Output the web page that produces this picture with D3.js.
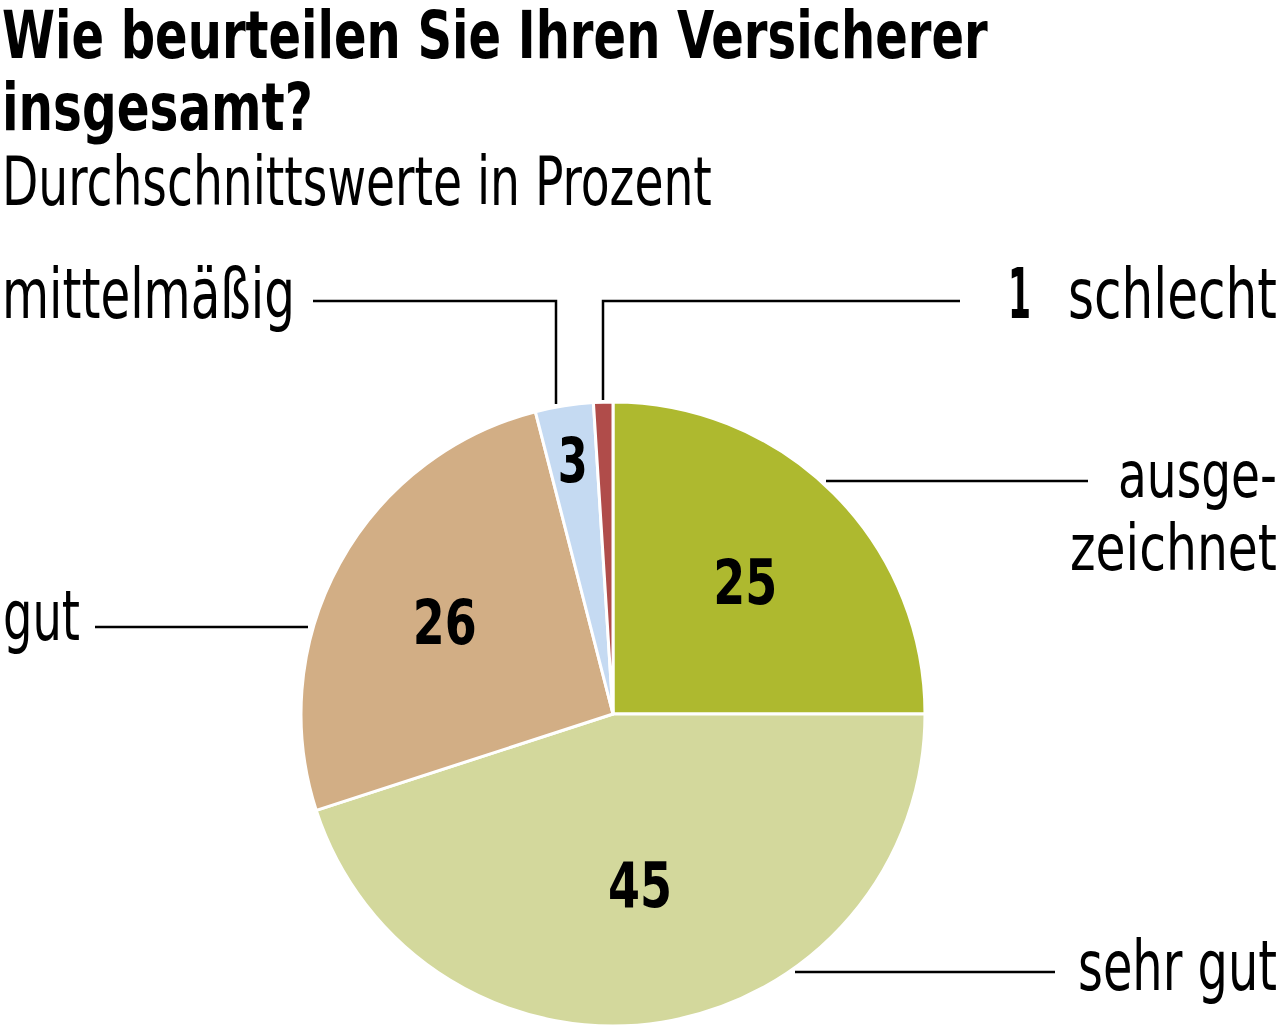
<!DOCTYPE html>
<html>
<head>
<meta charset="utf-8">
<script src="https://cdn.jsdelivr.net/npm/d3@7"></script>
<style>
  body { margin: 0; background: #fff; }
  text { font-family: "Liberation Sans Narrow", "DejaVu Sans Condensed", sans-serif; fill: #000; }
</style>
</head>
<body>
<div id="chart"></div>
<script>
// DATA
const categories = ["ausgezeichnet", "sehr gut", "gut", "mittelmäßig", "schlecht"];
const values = [25, 45, 26, 3, 1];
const colors = ["#aeb92f", "#d3d89c", "#d2ae85", "#c5daf2", "#b04c4a"];

// LAYOUT
const width = 1280,
  height = 1032,
  cx = 613,
  cy = 714,
  radius = 312;

// radius of the value label inside each slice (0 = no label)
const labelRadius = { "ausgezeichnet": 187, "sehr gut": 173, "gut": 192, "mittelmäßig": 257, "schlecht": 0 };
// target width of the value labels
const valueWidth = { "ausgezeichnet": 64, "sehr gut": 64, "gut": 64, "mittelmäßig": 30 };

const svg = d3.select("#chart")
  .append("svg")
  .attr("width", width)
  .attr("height", height);

// draws a text and squeezes it horizontally to a given width
function fitText(parent, str, x, y, size, len, weight, anchor) {
  const t = parent.append("text")
    .attr("font-size", size)
    .attr("font-weight", weight || "normal")
    .attr("text-anchor", anchor || "start")
    .text(str);
  const natural = t.node().getComputedTextLength();
  const sx = len / natural;
  t.attr("transform", `translate(${x},${y}) scale(${sx},1)`);
  return t;
}

// TITLE
fitText(svg, "Wie beurteilen Sie Ihren Versicherer", 2, 58, 66, 986, "bold");
fitText(svg, "insgesamt?", 2, 130, 66, 311, "bold");
fitText(svg, "Durchschnittswerte in Prozent", 2, 205, 68, 710);

// PIE
const pie = d3.pie().sort(null).value(d => d.value);
const arcs = pie(categories.map((c, i) => ({ name: c, value: values[i], color: colors[i] })));
const arc = d3.arc().innerRadius(0).outerRadius(radius);

const g = svg.append("g").attr("transform", `translate(${cx},${cy})`);

g.selectAll("path")
  .data(arcs)
  .join("path")
  .attr("d", arc)
  .attr("fill", d => d.data.color)
  .attr("stroke", "#fff")
  .attr("stroke-width", 3)
  .attr("stroke-linejoin", "round");

arcs.filter(d => labelRadius[d.data.name] > 0).forEach(d => {
  const r = labelRadius[d.data.name];
  const p = d3.arc().innerRadius(r).outerRadius(r).centroid(d);
  fitText(g, String(d.data.value), p[0], p[1] + 22, 62, valueWidth[d.data.name], "bold", "middle");
});

// LEADER LINES
const leaders = [
  "M313,301H556V404",
  "M960,301H603V400",
  "M1088,481H826",
  "M95,627H308",
  "M1055,972H795"
];
svg.selectAll("path.leader")
  .data(leaders)
  .join("path")
  .attr("class", "leader")
  .attr("d", d => d)
  .attr("fill", "none")
  .attr("stroke", "#000")
  .attr("stroke-width", 2.5);

// CATEGORY LABELS
fitText(svg, "mittelmäßig", 2, 318, 70, 293);
fitText(svg, String(values[4]), 1008, 318, 70, 23, "bold");
fitText(svg, "schlecht", 1068, 318, 70, 209);
fitText(svg, "ausge-", 1118, 497, 64, 159);
fitText(svg, "zeichnet", 1070, 570, 64, 207);
fitText(svg, "gut", 3, 640, 70, 77);
fitText(svg, "sehr gut", 1078, 990, 70, 199);
</script>
</body>
</html>
